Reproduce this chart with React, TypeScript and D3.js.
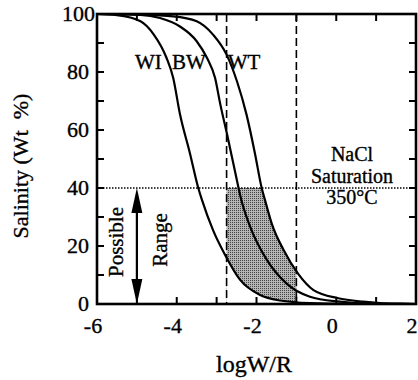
import React from "react";
import * as d3 from "d3";

const wiCurve: [number, number][] = [
  [-6, 100], [-5.5, 99.6], [-4.91, 97.5], [-4.58, 93], [-4.26, 85], [-4.09, 78],
  [-3.92, 65.5], [-3.67, 52], [-3.46, 40], [-3.37, 36], [-3.09, 25.5], [-2.79, 17],
  [-2.41, 8.3], [-1.91, 3.1], [-1.41, 1.2], [-0.65, 0.3], [0.45, 0],
];
const bwCurve: [number, number][] = [
  [-6, 100], [-4.91, 99.7], [-4.42, 98.6], [-3.92, 95.7], [-3.5, 90.6], [-3.24, 84.8],
  [-3.04, 78], [-2.91, 69], [-2.73, 58], [-2.45, 40], [-2.41, 37.5], [-2.16, 26.7],
  [-1.74, 15.2], [-1.25, 7.1], [-0.66, 2.5], [0.09, 0.8], [0.95, 0.1], [2, 0],
];
const wtCurve: [number, number][] = [
  [-6, 100], [-5, 99.8], [-4.09, 99.2], [-3.5, 97.5], [-3.09, 92.9], [-2.75, 86],
  [-2.49, 76.8], [-2.25, 65.3], [-2.04, 52], [-1.87, 40], [-1.79, 36], [-1.62, 27.8],
  [-1.32, 18.6], [-0.95, 10.3], [-0.57, 4.8], [0.05, 2.0], [0.67, 0.8], [1.1, 0.3],
  [1.6, 0.1], [2, 0],
];
const dashedX = [-2.75, -1];
const saturationLevel = 40;
const rangeArrowX = -5;
const rangeArrow = [0, 40];
const xTickValues = [-6, -5, -4, -3, -2, -1, 0, 1, 2];
const xTickLabels = ["-6", "", "-4", "", "-2", "", "0", "", "2"];
const yTickValues = [0, 10, 20, 30, 40, 50, 60, 70, 80, 90, 100];
const yTickLabels = ["0", "", "20", "", "40", "", "60", "", "80", "", "100"];
const curveLabels = [
  { text: "WI", x: -5.05, y: 81 },
  { text: "BW", x: -4.12, y: 81 },
  { text: "WT", x: -2.72, y: 81 },
];
const naclLines = ["NaCl", "Saturation", "350°C"];

const W = 418;
const H = 380;
const L = 97, R = 416, T = 14, B = 304;
const FONT = '"Liberation Serif", "DejaVu Serif", "Times New Roman", serif';
const ts = (size: number): React.CSSProperties => ({
  fontFamily: FONT,
  fontSize: size,
  stroke: "#000",
  strokeWidth: 0.35,
});

export default function App() {
  const x = d3.scaleLinear().domain([-6, 2]).range([L, R]);
  const y = d3.scaleLinear().domain([0, 100]).range([B, T]);
  const line = d3
    .line<[number, number]>()
    .x((d) => x(d[0]))
    .y((d) => y(d[1]))
    .curve(d3.curveMonotoneX);
  const area = d3
    .area<[number, number]>()
    .x((d) => x(d[0]))
    .y0(y(0) + 3)
    .y1((d) => y(d[1]))
    .curve(d3.curveMonotoneX);

  const ax = x(rangeArrowX);
  const aTop = y(rangeArrow[1]);
  const aBot = y(rangeArrow[0]);
  const headW = 5.5, headL = 25;

  return (
    <svg
      width={W}
      height={H}
      style={{ position: "absolute", left: 0, top: 0, background: "#fff" }}
    >
      <defs>
        <pattern id="dots" width="2" height="2" patternUnits="userSpaceOnUse">
          <rect width="2" height="2" fill="#b5b5b5" />
          <rect width="1" height="1" fill="#444" />
        </pattern>
        <clipPath id="shadeClip">
          <rect
            x={x(dashedX[0])}
            y={y(saturationLevel)}
            width={x(dashedX[1]) - x(dashedX[0])}
            height={y(0) - y(saturationLevel)}
          />
        </clipPath>
      </defs>
      <rect width={W} height={H} fill="#fff" />

      <g clipPath="url(#shadeClip)">
        <path d={area(wtCurve) || ""} fill="url(#dots)" />
        <path d={area(wiCurve) || ""} fill="#fff" />
      </g>

      {dashedX.map((v, i) => (
        <line
          key={i}
          x1={x(v)}
          x2={x(v)}
          y1={y(100)}
          y2={y(0)}
          stroke="#000"
          strokeWidth={1.6}
          strokeDasharray="8,4"
        />
      ))}

      <line
        x1={L}
        x2={R}
        y1={y(saturationLevel)}
        y2={y(saturationLevel)}
        stroke="#000"
        strokeWidth={1.3}
        strokeDasharray="1.5,1.5"
      />

      {[wiCurve, bwCurve, wtCurve].map((c, i) => (
        <path key={i} d={line(c) || ""} fill="none" stroke="#000" strokeWidth={2.2} />
      ))}

      <rect x={L} y={T} width={R - L} height={B - T} fill="none" stroke="#000" strokeWidth={2.6} />

      {xTickValues.map((v, i) => (
        <g key={"xt" + i}>
          <line x1={x(v)} x2={x(v)} y1={B} y2={B - 7} stroke="#000" strokeWidth={2} />
          <line x1={x(v)} x2={x(v)} y1={T} y2={T + 7} stroke="#000" strokeWidth={2} />
          {xTickLabels[i] && (
            <text x={x(v) - 4} y={333} textAnchor="middle" style={ts(22)}>
              {xTickLabels[i]}
            </text>
          )}
        </g>
      ))}
      {yTickValues.map((v, i) => (
        <g key={"yt" + i}>
          <line x1={L} x2={L + 7} y1={y(v)} y2={y(v)} stroke="#000" strokeWidth={2} />
          <line x1={R} x2={R - 7} y1={y(v)} y2={y(v)} stroke="#000" strokeWidth={2} />
          {yTickLabels[i] && (
            <text x={v === 100 ? 95 : 89} y={y(v) + 7} textAnchor="end" style={ts(22)}>
              {yTickLabels[i]}
            </text>
          )}
        </g>
      ))}

      {curveLabels.map((l, i) => (
        <text key={i} x={x(l.x)} y={y(l.y)} style={ts(21)}>
          {l.text}
        </text>
      ))}

      {naclLines.map((t, i) => (
        <text key={i} x={352} y={161 + i * 21.5} textAnchor="middle" style={ts(20)}>
          {t}
        </text>
      ))}

      <line x1={ax} x2={ax} y1={aTop + headL - 2} y2={aBot - headL + 2} stroke="#000" strokeWidth={2.2} />
      <path d={`M${ax},${aTop} L${ax - headW},${aTop + headL} L${ax + headW},${aTop + headL} Z`} fill="#000" />
      <path d={`M${ax},${aBot} L${ax - headW},${aBot - headL} L${ax + headW},${aBot - headL} Z`} fill="#000" />
      <text transform="translate(123,242) rotate(-90)" textAnchor="middle" style={ts(21)}>
        Possible
      </text>
      <text transform="translate(167,240) rotate(-90)" textAnchor="middle" style={ts(21)}>
        Range
      </text>

      <text x={254} y={372} textAnchor="middle" style={ts(24)}>
        logW/R
      </text>
      <text
        transform="translate(28,166) rotate(-90)"
        textAnchor="middle"
        style={{ ...ts(22), whiteSpace: "pre" }}
      >
        Salinity (Wt  %)
      </text>
    </svg>
  );
}
